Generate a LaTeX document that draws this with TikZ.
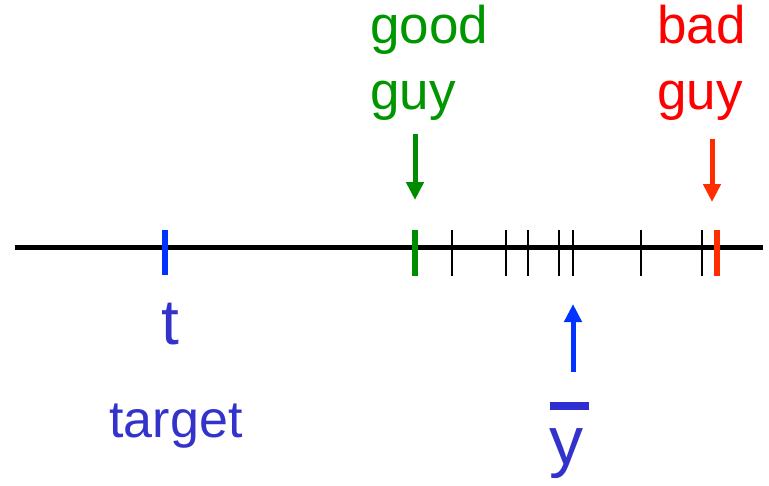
\documentclass[tikz,border=0pt]{standalone}
\usepackage{fontspec}
\setmainfont{Liberation Sans}
\usetikzlibrary{arrows.meta}

\definecolor{goodgreen}{RGB}{0,140,0}
\definecolor{goodtext}{RGB}{0,150,0}
\definecolor{badred}{RGB}{255,45,0}
\definecolor{badtext}{RGB}{255,0,0}
\definecolor{meanblue}{RGB}{0,51,255}
\definecolor{labelblue}{RGB}{51,51,204}

\begin{document}
\begin{tikzpicture}[x=1pt,y=-1pt,
    obs/.style={line width=2pt},
    mark line/.style={line width=5.5pt},
    pointer/.style={line width=5pt,-{Triangle[width=17pt,length=18pt]}},
    word/.style={inner sep=0pt,font=\fontsize{53}{64}\selectfont}]
  \useasboundingbox (0,0) rectangle (769,485);

  % the line and the sample points on it
  \draw[line width=5pt] (15,247) -- (763,247);
  \foreach \x in {452,506,528,559,573,641,702}
    \draw[obs] (\x,230) -- (\x,276);
  \draw[mark line,meanblue] (165,230) -- (165,275);
  \draw[mark line,goodgreen] (415,230) -- (415,276);
  \draw[mark line,badred] (717,230) -- (717,276);

  % labels above
  \node[word,goodtext,anchor=base west] (good1) at (370,43) {good};
  \node[word,goodtext,anchor=base west] (good2) at (370,109) {guy};
  \node[word,badtext,anchor=base west] (bad1) at (657,43) {bad};
  \node[word,badtext,anchor=base west] (bad2) at (657,109) {guy};

  \coordinate (goodtail) at (415,134);
  \coordinate (goodtip) at (415,200);
  \coordinate (badtail) at (712,139);
  \coordinate (badtip) at (712,202);
  \draw[pointer,goodgreen] (goodtail) -- (goodtip);
  \draw[pointer,badred] (badtail) -- (badtip);

  % labels below
  \node[inner sep=0pt,labelblue,anchor=base,font=\fontsize{64}{64}\selectfont]
    (t) at (170.5,344) {t};
  \node[inner sep=0pt,labelblue,anchor=base,font=\fontsize{52}{60}\selectfont]
    (target) at (176,437) {target};

  \coordinate (meantail) at (573,372);
  \coordinate (meantip) at (573,304);
  \draw[pointer,meanblue] (meantail) -- (meantip);
  \node[inner sep=0pt,labelblue,anchor=base,font=\fontsize{68}{68}\selectfont]
    (ybar) at (566.5,464) {y};
  \fill[labelblue!90!blue] (550,402) rectangle (589,410);
\end{tikzpicture}
\end{document}
